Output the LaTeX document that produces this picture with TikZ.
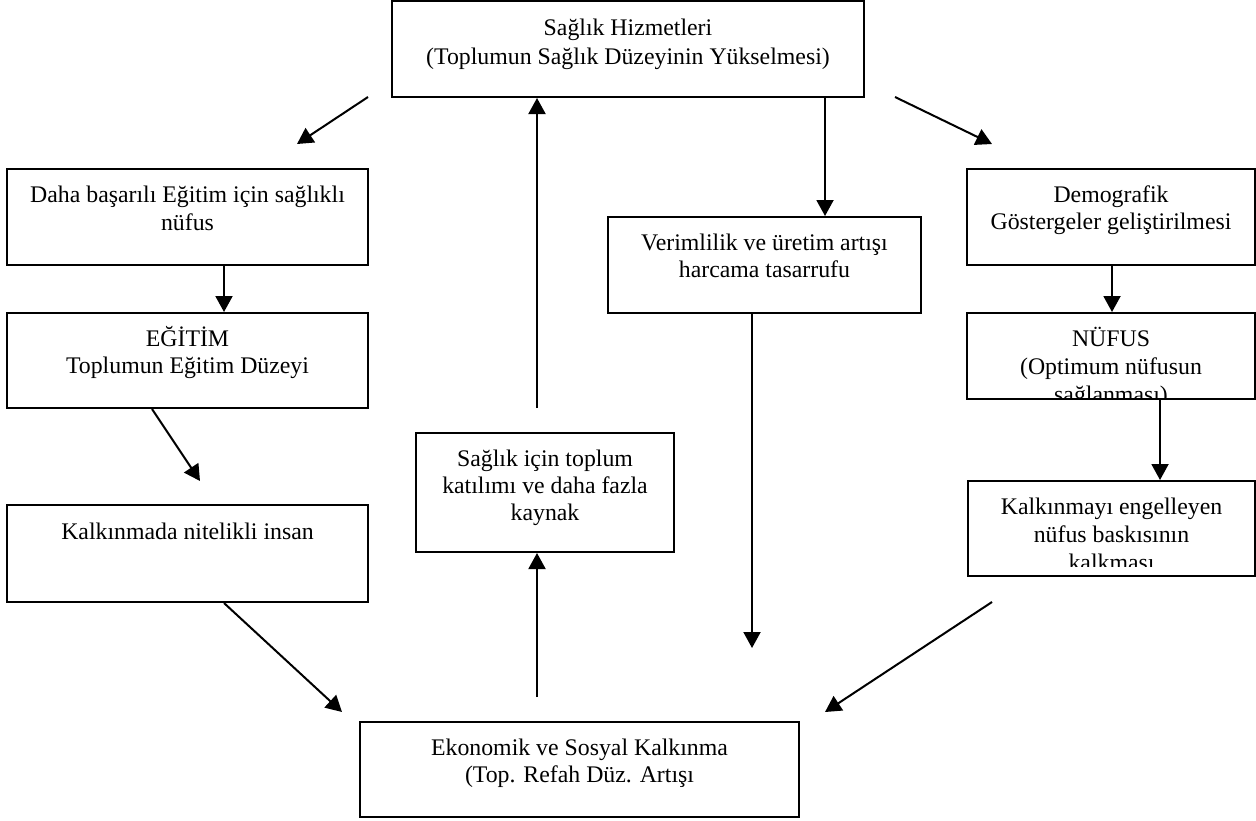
\documentclass[tikz,border=0pt]{standalone}
\usepackage{fontspec}
\setmainfont{Liberation Serif}
\usetikzlibrary{arrows.meta}
\begin{document}
\setlength{\lineskiplimit}{-20pt}
\begin{tikzpicture}[x=0.5pt,y=-0.5pt,
  box/.style={draw, line width=1pt, rectangle, inner sep=0pt},
  txt/.style={font={\fontsize{11.9}{#1}\selectfont}, align=center, inner sep=0pt, anchor=base},
  arr/.style={line width=1pt, -{Triangle[length=8pt,width=8.5pt]}}]
\useasboundingbox[fill=white] (0,0) rectangle (1256,820);
% boxes
\node[box, minimum width=236pt, minimum height=48pt] (top) at (628,49) {};
\node[box, minimum width=180.5pt, minimum height=48pt] (daha) at (187.5,217) {};
\node[box, minimum width=180.5pt, minimum height=47.5pt] (egitim) at (187.5,360.5) {};
\node[box, minimum width=180.5pt, minimum height=48.5pt] (kalk) at (187.5,553.5) {};
\node[box, minimum width=129pt, minimum height=59.5pt] (katilim) at (545,492.5) {};
\node[box, minimum width=156.5pt, minimum height=48pt] (verim) at (764.5,265) {};
\node[box, minimum width=144pt, minimum height=48pt] (demog) at (1111,217) {};
\node[box, minimum width=144pt, minimum height=43pt] (nufus) at (1111,356) {};
\node[box, minimum width=143.5pt, minimum height=47.5pt] (baski) at (1111.5,528.5) {};
\node[box, minimum width=219.5pt, minimum height=47.5pt] (ekon) at (579.5,769.5) {};
% texts
\node[txt=14.5] (topt) at (628,64) {Sağlık Hizmetleri\\(Toplumun Sağlık Düzeyinin Yükselmesi)};
\node[txt=14] (dahat) at (187.5,230) {Daha başarılı Eğitim için sağlıklı\\nüfus};
\node[txt=13.5] (egitimt) at (187.5,373) {EĞİTİM\\Toplumun Eğitim Düzeyi};
\node[txt=13.5] (kalkt) at (187.5,539) {Kalkınmada nitelikli insan};
\node[txt=13.5] (katilimt) at (545,520) {Sağlık için toplum\\katılımı ve daha fazla\\kaynak};
\node[txt=13.5] (verimt) at (764.5,277) {Verimlilik ve üretim artışı\\harcama tasarrufu};
\node[txt=13.5] (demogt) at (1111,229) {Demografik\\Göstergeler geliştirilmesi};
\begin{scope}
\clip (967,313) rectangle (1255,397);
\node[txt=14] (nufust) at (1111,402) {NÜFUS\\(Optimum nüfusun\\sağlanması)};
\end{scope}
\begin{scope}
\clip (968,481) rectangle (1255,566);
\node[txt=14] (baskit) at (1111.5,570) {Kalkınmayı engelleyen\\nüfus baskısının\\kalkması};
\end{scope}
\node[txt=13.5] (ekont) at (579.5,782) {Ekonomik ve Sosyal Kalkınma\\(Top. Refah Düz. Artışı};
% connector end points
\coordinate (a1s) at (368,97);  \coordinate (a1e) at (297,144);
\coordinate (a2s) at (895,97);  \coordinate (a2e) at (992,144);
\coordinate (a5e) at (200,481);
\coordinate (a6e) at (342,712);
\coordinate (a7s) at (992,602); \coordinate (a7e) at (825,712);
\coordinate (a8e) at (752,648);
\coordinate (a9s) at (537,697);
\coordinate (a10s) at (537,408);
% connectors
\draw[arr] (a1s) -- (a1e);
\draw[arr] (a2s) -- (a2e);
\draw[arr] (top.south -| 825,0) -- (verim.north -| 825,0);
\draw[arr] (daha.south -| 224,0) -- (egitim.north -| 224,0);
\draw[arr] (egitim.south -| 152,0) -- (a5e);
\draw[arr] (kalk.south -| 224,0) -- (a6e);
\draw[arr] (a7s) -- (a7e);
\draw[arr] (verim.south -| 752,0) -- (a8e);
\draw[arr] (a9s) -- (katilim.south -| a9s);
\draw[arr] (a10s) -- (top.south -| a10s);
\draw[arr] (demog.south -| 1112,0) -- (nufus.north -| 1112,0);
\draw[arr] (nufus.south -| 1160,0) -- (baski.north -| 1160,0);
\end{tikzpicture}
\end{document}
